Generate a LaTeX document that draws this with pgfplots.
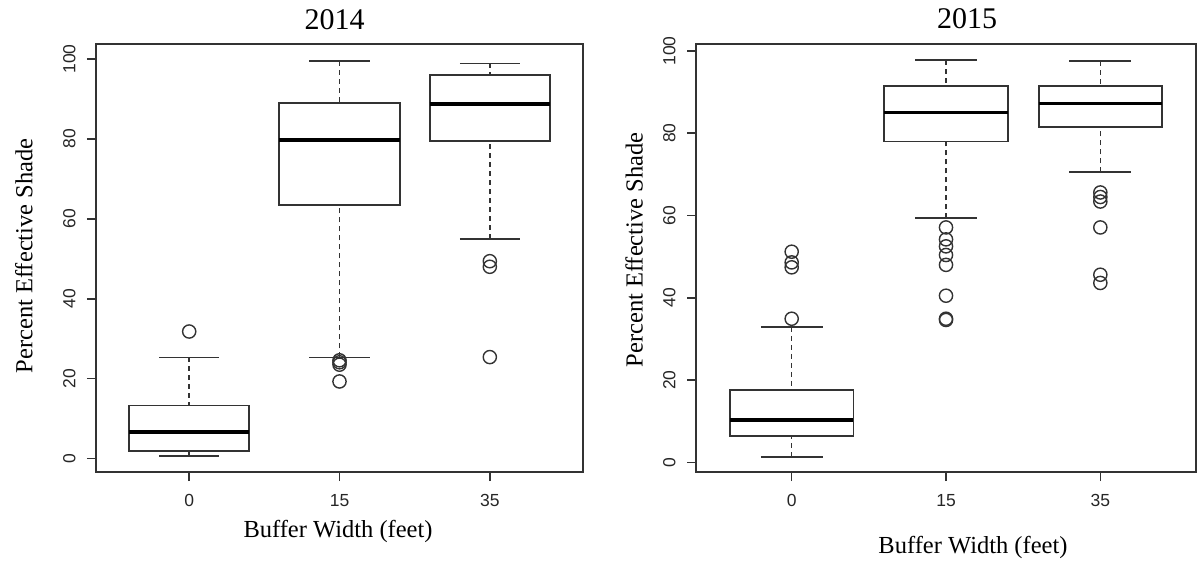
\documentclass[border=0pt]{standalone}
\usepackage{pgfplots}
\pgfplotsset{compat=1.18}
\usepgfplotslibrary{statistics}
\usepackage{fontspec}
\setmainfont{Liberation Serif}
\newfontfamily\arial{Liberation Sans}
\definecolor{rline}{HTML}{333333}
\pgfplotsset{
  rboxaxis/.style={
    scale only axis, height=428bp,
    xmin=0.38, xmax=3.62,
    xtick={1,2,3}, xticklabels={0,15,35},
    ytick={0,20,40,60,80,100}, yticklabels={0,20,40,60,80,100},
    tick align=outside, xtick pos=bottom, ytick pos=left,
    major tick length=9bp,
    major tick style={rline, line width=1.5bp},
    axis line style={rline, line width=1.8bp},
    tick label style={font=\arial\fontsize{17.5bp}{20bp}\selectfont, text=black!85},
    yticklabel style={rotate=90, anchor=south},
    xticklabel shift=10bp, yticklabel shift=8bp,
    label style={font=\fontsize{24.5bp}{28bp}\selectfont},
    title style={font=\fontsize{30bp}{34bp}\selectfont, anchor=center},
    boxplot/draw direction=y,
    boxplot/every median/.style={black, line width=3.6bp},
    boxplot/every box/.style={draw=rline, line width=1.8bp},
    boxplot/box extend=0.8,
    boxplot/whisker extend=0.4,
    boxplot/draw/lower whisker/.code={%
      \draw[rline, line width=1.5bp, dash pattern=on 5bp off 4bp]
        (boxplot box cs:\pgfplotsboxplotvalue{lower whisker},0.5) --
        (boxplot box cs:\pgfplotsboxplotvalue{lower quartile},0.5);
      \draw[rline, line width=1.8bp, solid]
        (boxplot whisker cs:\pgfplotsboxplotvalue{lower whisker},0) --
        (boxplot whisker cs:\pgfplotsboxplotvalue{lower whisker},1);
    },
    boxplot/draw/upper whisker/.code={%
      \draw[rline, line width=1.5bp, dash pattern=on 5bp off 4bp]
        (boxplot box cs:\pgfplotsboxplotvalue{upper whisker},0.5) --
        (boxplot box cs:\pgfplotsboxplotvalue{upper quartile},0.5);
      \draw[rline, line width=1.8bp, solid]
        (boxplot whisker cs:\pgfplotsboxplotvalue{upper whisker},0) --
        (boxplot whisker cs:\pgfplotsboxplotvalue{upper whisker},1);
    },
  },
  rbox/.style={rline, line width=1.8bp, mark=o, mark size=6.6bp,
    mark options={solid, line width=1.4bp, draw=rline, fill=none}},
}
\begin{document}
\begin{tikzpicture}
\useasboundingbox (0,0) rectangle (1197bp,561bp);
% ---------------- 2014 ----------------
\begin{axis}[rboxaxis, at={(96bp,89bp)}, anchor=south west, width=487bp,
  ymin=-3.36, ymax=103.76,
  title={2014}, title style={at={(axis description cs:0.49,1.044)}},
  xlabel={Buffer Width (feet)}, xlabel style={at={(axis description cs:0.497,-0.138)}, anchor=center},
  ylabel={Percent Effective Shade}, ylabel style={at={(axis description cs:-0.148,0.505)}, anchor=center},
]
\addplot[rbox, boxplot prepared={draw position=1, lower whisker=0.6, lower quartile=1.8, median=6.6, upper quartile=13.3, upper whisker=25.3}]
  coordinates {(1,31.8)};
\addplot[rbox, boxplot prepared={draw position=2, lower whisker=25.3, lower quartile=63.4, median=79.8, upper quartile=89.0, upper whisker=99.5}]
  coordinates {(2,24.6) (2,24.1) (2,23.5) (2,19.3)};
\addplot[rbox, boxplot prepared={draw position=3, lower whisker=55.0, lower quartile=79.4, median=88.7, upper quartile=96.1, upper whisker=98.9}]
  coordinates {(3,49.4) (3,48.0) (3,25.4)};
\end{axis}
% ---------------- 2015 ----------------
\begin{axis}[rboxaxis, at={(696bp,89bp)}, anchor=south west, width=500bp,
  ymin=-2.36, ymax=101.7,
  title={2015}, title style={at={(axis description cs:0.542,1.045)}},
  xlabel={Buffer Width (feet)}, xlabel style={at={(axis description cs:0.554,-0.177)}, anchor=center},
  ylabel={Percent Effective Shade}, ylabel style={at={(axis description cs:-0.124,0.519)}, anchor=center},
]
\addplot[rbox, boxplot prepared={draw position=1, lower whisker=1.3, lower quartile=6.3, median=10.3, upper quartile=17.6, upper whisker=32.9}]
  coordinates {(1,34.9) (1,47.4) (1,48.6) (1,51.2)};
\addplot[rbox, boxplot prepared={draw position=2, lower whisker=59.3, lower quartile=78.0, median=85.0, upper quartile=91.4, upper whisker=97.8}]
  coordinates {(2,57.1) (2,54.2) (2,52.5) (2,50.4) (2,48.0) (2,40.5) (2,34.9) (2,34.6)};
\addplot[rbox, boxplot prepared={draw position=3, lower whisker=70.5, lower quartile=81.5, median=87.2, upper quartile=91.5, upper whisker=97.5}]
  coordinates {(3,65.6) (3,64.5) (3,63.4) (3,57.1) (3,45.6) (3,43.6)};
\end{axis}
\end{tikzpicture}
\end{document}
